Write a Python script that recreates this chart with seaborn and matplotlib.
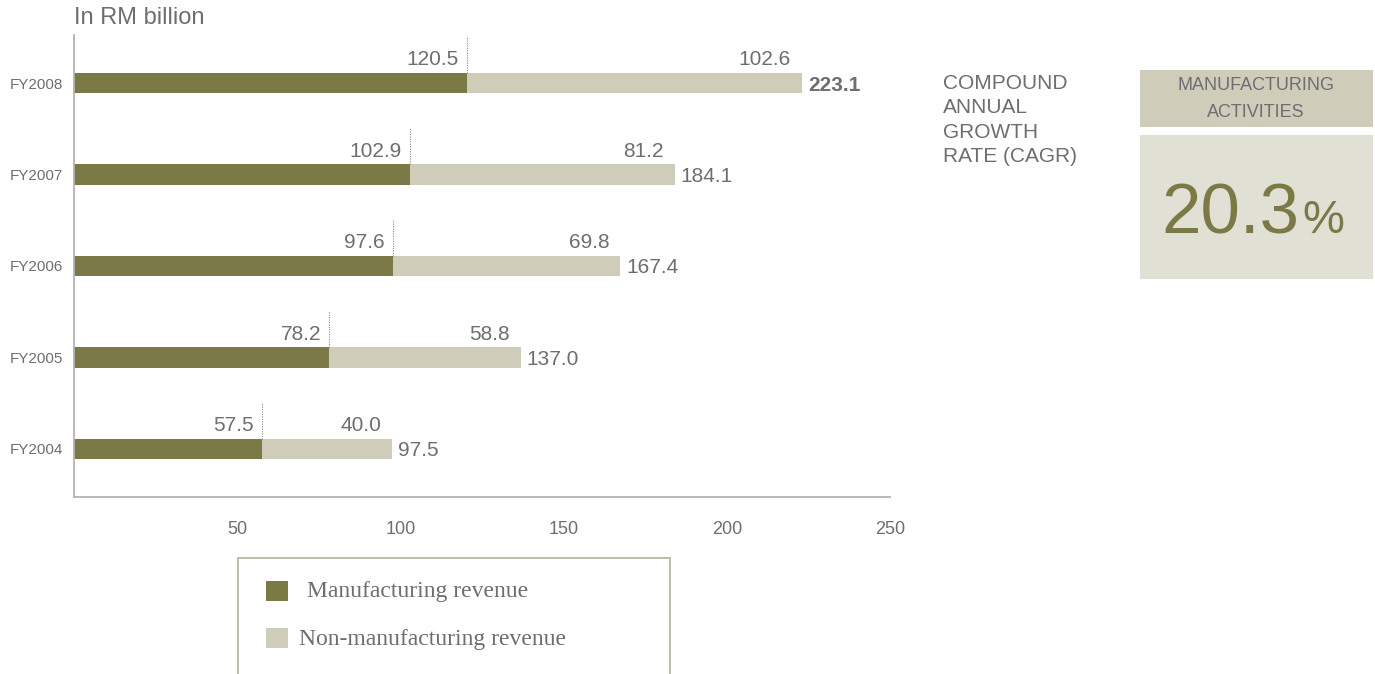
import matplotlib
matplotlib.use("Agg")
import matplotlib.pyplot as plt
import seaborn as sns
import pandas as pd
from matplotlib.patches import Rectangle
from matplotlib.lines import Line2D

# ---- data ----
years = ["FY2008", "FY2007", "FY2006", "FY2005", "FY2004"]
manufacturing = [120.5, 102.9, 97.6, 78.2, 57.5]
non_manufacturing = [102.6, 81.2, 69.8, 58.8, 40.0]
totals = [223.1, 184.1, 167.4, 137.0, 97.5]
x_ticks = [50, 100, 150, 200, 250]
cagr_value = "20.3"

sns.set_theme(style="white")
plt.rcParams['font.family'] = ['Liberation Sans', 'DejaVu Sans']

DARK = "#7b7a47"
LIGHT = "#cfccb9"
PALE = "#e1e0d4"
TEXT = "#6d6e71"
SPINE = "#b3b3b3"

W, H = 1375, 674
def fx(px): return px / W
def fy(py): return 1 - py / H

df = pd.DataFrame({"year": years, "mfg": manufacturing, "non": non_manufacturing})
df["stack"] = df["mfg"] + df["non"]

fig = plt.figure(figsize=(W / 100, H / 100), dpi=100)
ax = fig.add_axes([fx(74), fy(497), fx(890) - fx(74), fy(35) - fy(497)])

sns.barplot(data=df, y="year", x="stack", order=years, color=LIGHT, width=0.22,
            saturation=1, ax=ax, orient="h", linewidth=0, edgecolor="none")
sns.barplot(data=df, y="year", x="mfg", order=years, color=DARK, width=0.22,
            saturation=1, ax=ax, orient="h", linewidth=0, edgecolor="none")

ax.set_xlim(0, 250)
ax.set_ylim(4.525, -0.525)
ax.set_xlabel("")
ax.set_ylabel("")
ax.set_xticks(x_ticks)
ax.tick_params(axis="x", direction="in", length=9, width=1, color="#999999",
               labelsize=13, labelcolor=TEXT, pad=17)
ax.tick_params(axis="y", length=0, labelsize=11, labelcolor=TEXT, pad=8)
for s in ["top", "right"]:
    ax.spines[s].set_visible(False)
for s in ["left", "bottom"]:
    ax.spines[s].set_color(SPINE)
    ax.spines[s].set_linewidth(1.3)

half = 0.11
for i, (m, n, t) in enumerate(zip(manufacturing, non_manufacturing, totals)):
    end = m + n
    ax.plot([m, m], [i - half, i - 0.51], linestyle=(0, (1, 1.2)), color="#8a8a8a", lw=0.8)
    ax.annotate(f"{m:.1f}", (m, i - half), xytext=(-6, 5.5), textcoords="offset points",
                ha="right", va="baseline", fontsize=15, color=TEXT)
    ax.annotate(f"{n:.1f}", (end, i - half), xytext=(-8, 5.5), textcoords="offset points",
                ha="right", va="baseline", fontsize=15, color=TEXT)
    ax.annotate(f"{t:.1f}", (end, i), xytext=(4, -5.4), textcoords="offset points",
                ha="left", va="baseline", fontsize=15, color=TEXT,
                fontweight="bold" if i == 0 else "normal")

fig.text(fx(74), fy(18), "In RM billion", fontsize=17, color=TEXT, va="center", ha="left")

# CAGR panel
fig.text(fx(943), fy(74), "COMPOUND\nANNUAL\nGROWTH\nRATE (CAGR)", fontsize=15,
         color=TEXT, va="top", ha="left", linespacing=1.36)
fig.add_artist(Rectangle((fx(1140), fy(127)), fx(1373) - fx(1140), fy(70) - fy(127),
                         transform=fig.transFigure, facecolor=LIGHT, edgecolor="none"))
fig.add_artist(Rectangle((fx(1140), fy(279)), fx(1373) - fx(1140), fy(135) - fy(279),
                         transform=fig.transFigure, facecolor=PALE, edgecolor="none"))
fig.text(fx(1256), fy(99), "MANUFACTURING\nACTIVITIES", fontsize=13, color=TEXT,
         ha="center", va="center", linespacing=1.8)
fig.text(fx(1299), fy(233), cagr_value, fontsize=51, color=DARK, ha="right", va="baseline")
fig.text(fx(1302), fy(233), "%", fontsize=34, color=DARK, ha="left", va="baseline")

# legend box
edge = "#b5b39a"
for xs, ys in [([238, 238], [674, 558]), ([238, 670], [558, 558]), ([670, 670], [558, 674])]:
    fig.add_artist(Line2D([fx(x) for x in xs], [fy(y) for y in ys], transform=fig.transFigure,
                          color=edge, lw=1.2))
fig.add_artist(Rectangle((fx(266), fy(601)), fx(288) - fx(266), fy(581) - fy(601),
                         transform=fig.transFigure, facecolor=DARK, edgecolor="none"))
fig.add_artist(Rectangle((fx(266), fy(648)), fx(288) - fx(266), fy(628) - fy(648),
                         transform=fig.transFigure, facecolor=LIGHT, edgecolor="none"))
fig.text(fx(307), fy(592), "Manufacturing revenue", fontsize=17, color=TEXT,
         family=["Liberation Serif", "DejaVu Serif"], ha="left", va="center")
fig.text(fx(299), fy(639), "Non-manufacturing revenue", fontsize=17, color=TEXT,
         family=["Liberation Serif", "DejaVu Serif"], ha="left", va="center")

fig.savefig("out.png", dpi=100, facecolor="white")
